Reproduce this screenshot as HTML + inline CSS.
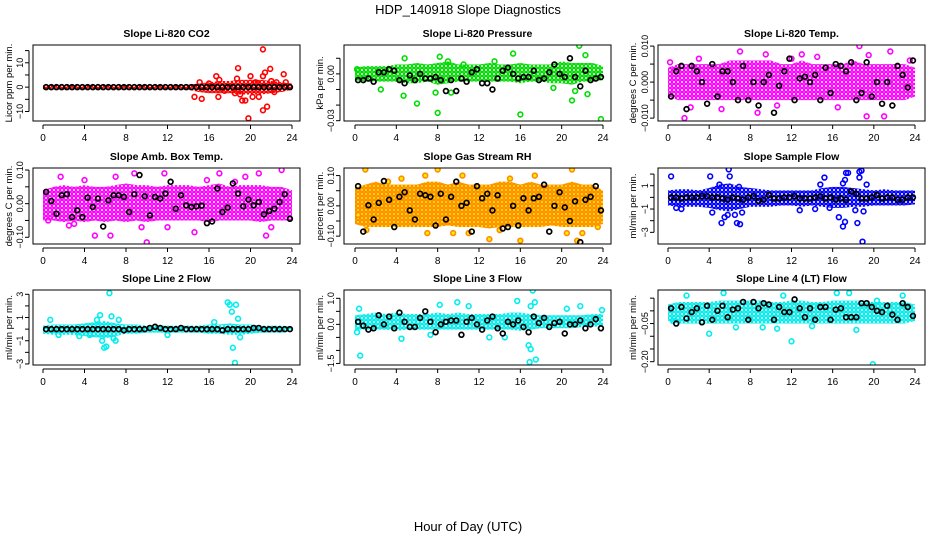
<!DOCTYPE html>
<html><head><meta charset="utf-8"><style>
html,body{margin:0;padding:0;background:#fff}
svg{display:block;font-family:"Liberation Sans",Arial,sans-serif}
</style></head><body>
<svg id="chart" width="936" height="540" viewBox="0 0 936 540" xmlns="http://www.w3.org/2000/svg">
<text x="468" y="14" font-size="13" text-anchor="middle">HDP_140918  Slope Diagnostics</text>
<text x="468" y="531" font-size="13" text-anchor="middle">Hour of Day (UTC)</text>
<g id="panels"></g>
</svg>
<script>
// ---------- data ----------
const bandHours = [0,1,2,3,4,5,6,7,8,9,10,11,12,13,14,15,16,17,18,19,20,21,22,23,24];
const xTicks = [0,4,8,12,16,20,24];

const co2Lo = [-0.8,-0.8,-0.8,-0.8,-0.8,-0.8,-0.8,-0.8,-0.8,-0.8,-0.8,-0.8,-0.8,-0.8,-1,-2,-2.5,-2.5,-2.5,-3,-3,-3,-2.5,-2,-1];
const co2Hi = [0.8,0.8,0.8,0.8,0.8,0.8,0.8,0.8,0.8,0.8,0.8,0.8,0.8,0.8,1,1.5,2,2.5,2.5,3,3,3,2.5,2,1.5];
const co2OutX = [15.3,14.6,16.7,16.9,17,18.8,18.7,19.2,19.5,19.8,20,20.2,20.5,20.8,21.2,21.2,21.4,21.6,21.9,21.2,22,22.5,23.2,23.4,17.5,18.5,19,22.3,16,15.1];
const co2OutY = [-4.8,-4,4.5,-4,3,7.8,3.5,-5.5,-5.5,-12.8,4.5,-4,2,-4,15.5,-9.5,6,-8,7.5,4.5,2.5,2,5.3,2,-1.5,-2.5,-3,-2,1.5,2];
const co2Black = [0,0,0,0,0,0,0,0,0,0,0,0,0,0,0,0,0,0,0,0,0,0,0,0,0,0,0,0,0,0,0,0,0,0,0,0,0,0,0,0,0,0,0,0,0,0,0,0];

const presLo = [-0.004,-0.005,-0.005,-0.005,-0.005,-0.006,-0.006,-0.005,-0.007,-0.006,-0.005,-0.005,-0.005,-0.005,-0.005,-0.005,-0.006,-0.005,-0.005,-0.006,-0.006,-0.007,-0.005,-0.005,-0.004];
const presHi = [0.004,0.005,0.005,0.005,0.006,0.006,0.007,0.006,0.007,0.008,0.006,0.006,0.006,0.007,0.006,0.006,0.007,0.006,0.006,0.006,0.008,0.007,0.007,0.007,0.005];
const presOutX = [0.2,2.5,4.7,4.8,6,7.8,8,8.2,9,9.3,15.3,16,19.2,21,21.3,21.7,22.5,22.3,23.8,13.5,10.5];
const presOutY = [0.003,-0.010,-0.014,0.010,-0.019,-0.012,-0.025,0.011,0.008,-0.012,0.013,-0.026,-0.009,-0.017,-0.011,0.018,-0.013,0.012,-0.029,0.008,0.006];
const presBlack = [-0.004,-0.004,-0.003,-0.005,0.001,0.001,0.003,0.002,-0.004,-0.006,-0.001,-0.004,0.000,-0.003,-0.003,-0.002,-0.004,-0.011,-0.004,-0.011,-0.003,-0.005,0.001,0.003,-0.006,-0.006,-0.010,-0.003,0.002,0.004,0.000,-0.003,-0.002,-0.002,0.002,-0.004,-0.003,0.001,0.006,0.000,-0.002,0.010,-0.002,-0.008,0.002,-0.004,-0.003,-0.002];

const tempLo = [-0.004,-0.005,-0.005,-0.005,-0.005,-0.005,-0.005,-0.005,-0.005,-0.005,-0.005,-0.005,-0.005,-0.005,-0.005,-0.005,-0.005,-0.005,-0.005,-0.005,-0.005,-0.005,-0.005,-0.005,-0.004];
const tempHi = [0.004,0.005,0.005,0.005,0.005,0.005,0.006,0.006,0.006,0.006,0.006,0.005,0.005,0.006,0.005,0.005,0.005,0.005,0.006,0.005,0.005,0.005,0.005,0.005,0.004];
const tempOutX = [1.6,7,8.7,9.5,10.6,18.6,19.3,21,21.6,12,5.2,16.5,13,19.5,0.2,2.2,14.5,3,23.5];
const tempOutY = [-0.010,0.0085,-0.0085,0.0077,-0.0065,0.010,-0.0095,-0.0095,0.0085,0.0065,-0.0075,-0.007,0.0077,0.0075,0.0055,-0.007,0.007,0.0065,0.006];
const tempBlack = [-0.004,0.003,0.0045,-0.0075,0.0045,0.003,0.000,-0.006,0.005,-0.004,0.003,0.003,0.000,-0.005,0.0045,-0.005,0.000,-0.0065,0.000,0.002,-0.0085,-0.001,0.003,0.0065,-0.005,0.001,0.0015,0.000,0.002,-0.005,0.004,-0.003,0.005,0.0045,0.003,0.0055,-0.005,-0.003,0.0055,-0.004,0.000,-0.006,0.000,-0.0065,0.0045,0.002,-0.0015,0.006];

const ambLo = [-0.05,-0.05,-0.055,-0.05,-0.055,-0.05,-0.055,-0.05,-0.055,-0.05,-0.055,-0.05,-0.05,-0.05,-0.05,-0.05,-0.055,-0.05,-0.05,-0.05,-0.05,-0.055,-0.05,-0.05,-0.05];
const ambHi = [0.04,0.05,0.055,0.05,0.055,0.05,0.05,0.055,0.06,0.055,0.055,0.05,0.055,0.055,0.055,0.05,0.055,0.06,0.05,0.055,0.055,0.055,0.05,0.05,0.04];
const ambOutX = [5,6.5,10,21.5,23,22,4,1.7,7,8.8,11.7,14.6,15.8,17,19.5,20.8,3,9.5,12,0.5,2.5,18.5];
const ambOutY = [-0.095,-0.095,-0.115,-0.095,0.1,-0.07,0.07,0.08,0.08,0.09,0.09,-0.085,0.07,0.09,0.08,0.09,-0.06,-0.07,-0.07,-0.05,-0.065,0.065];
const ambBlack = [0.035,0.008,-0.03,0.025,0.028,-0.04,-0.02,-0.04,0.018,-0.01,0.015,-0.068,0.01,0.025,0.025,0.02,-0.025,0.028,0.085,0.022,-0.035,0.02,0.015,0.03,0.065,-0.015,0.025,-0.005,-0.01,-0.008,-0.006,-0.058,-0.053,0.045,-0.025,-0.012,0.06,0.03,-0.008,0.012,-0.005,0.005,-0.032,-0.022,-0.015,0.005,0.028,-0.045];

const rhLo = [-0.06,-0.07,-0.07,-0.07,-0.07,-0.07,-0.07,-0.07,-0.07,-0.065,-0.07,-0.07,-0.07,-0.075,-0.07,-0.07,-0.07,-0.07,-0.07,-0.065,-0.07,-0.07,-0.07,-0.07,-0.06];
const rhHi = [0.06,0.07,0.08,0.07,0.07,0.07,0.07,0.08,0.08,0.07,0.08,0.07,0.07,0.07,0.08,0.08,0.07,0.08,0.07,0.07,0.07,0.08,0.07,0.07,0.05];
const rhOutX = [1,1.1,3.2,6.8,8,7,9.5,11,13,15,16,17.4,21,20.5,21.5,22,14,10.4,4.5,0.3,23.5];
const rhOutY = [0.12,-0.08,0.08,0.1,0.12,-0.09,-0.09,-0.09,-0.11,0.09,-0.115,0.1,0.12,-0.09,-0.115,-0.09,-0.08,0.1,0.09,-0.03,-0.07];
const rhBlack = [0.065,-0.085,0.002,-0.045,0.01,0.082,0.02,-0.07,0.03,0.045,-0.015,-0.045,0.04,0.035,0.03,-0.065,0.04,-0.045,0.03,0.08,0.0,0.01,-0.085,0.065,0.025,0.04,-0.015,0.035,-0.075,-0.07,0.0,-0.065,0.025,-0.015,0.025,0.03,0.07,-0.085,0.0,0.045,-0.005,-0.05,0.015,-0.12,0.02,0.03,0.065,-0.015];

const sflowLo = [-0.7,-0.8,-0.8,-0.8,-0.9,-1.1,-1.2,-1.0,-0.8,-0.8,-0.8,-0.7,-0.7,-0.8,-0.7,-0.8,-0.9,-0.9,-0.8,-0.8,-0.7,-0.7,-0.7,-0.7,-0.6];
const sflowHi = [0.6,0.7,0.7,0.6,0.8,1.1,1.2,0.9,0.8,0.7,0.6,0.6,0.6,0.6,0.6,0.8,0.9,0.9,0.8,0.7,0.6,0.7,0.6,0.6,0.6];
const sflowOutX = [0.3,0.8,1.3,4.1,4.3,5.2,5.5,5.8,5.9,6,6.5,6.7,7,7.2,6.9,5,12.8,14.3,14.8,15.2,16.6,17,17.2,17.3,17.5,17.2,17,18.2,18.4,18.6,18.8,18.6,18.9,19,19.3,15.7];
const sflowOutY = [1.8,-0.9,-1,1.8,-1.3,-2.2,-1.7,-1.5,2.4,1.8,-1.5,-2.2,-2.3,-1.3,0.9,1.1,-1.1,-1,1.1,1.7,-1.7,-2.5,-2.1,2.1,2.1,1.5,1.2,-1.1,-2.2,2.2,2.3,1.7,-3.8,-1.2,1.1,-0.9];
const sflowBlack = [0.0,0.0,-0.1,0.0,0.0,0.0,0.1,0.1,0.0,0.0,-0.1,-0.2,0.0,-0.1,-0.2,0.0,0.1,-0.3,-0.2,0.2,-0.1,-0.1,0.0,0.0,0.1,-0.1,-0.1,-0.1,0.0,0.1,-0.1,0.0,-0.2,-0.1,-0.2,0.5,0.3,-0.1,-0.1,0.0,0.2,-0.1,0.0,0.0,-0.2,-0.2,0.0,0.0];

const l2Lo = [-0.4,-0.5,-0.5,-0.5,-0.6,-0.7,-0.8,-0.6,-0.4,-0.4,-0.3,-0.3,-0.3,-0.3,-0.3,-0.3,-0.4,-0.4,-0.5,-0.5,-0.4,-0.3,-0.3,-0.3,-0.2];
const l2Hi = [0.3,0.4,0.4,0.4,0.5,0.6,0.7,0.5,0.4,0.4,0.3,0.3,0.3,0.3,0.3,0.3,0.4,0.4,0.5,0.4,0.4,0.3,0.3,0.3,0.2];
const l2OutX = [0.7,5.2,5.5,5.7,5.9,6.1,6.4,6.6,6.8,7,7.3,17.8,18,18.2,18.3,18.5,18.6,18.8,19,4.5,1.5,16.5,12,3.5];
const l2OutY = [0.8,0.8,1.2,-1,-1.6,-1.5,3.1,1.1,-0.8,-1,0.8,2.3,2.1,1.5,-1.6,-2.9,2.1,0.9,-0.7,-0.5,-0.5,0.6,-0.5,-0.6];
const l2Black = [0.0,0.0,0.0,0.0,0.0,0.0,0.0,0.0,0.0,0.0,0.0,0.0,0.0,0.0,0.0,-0.1,0.0,0.0,0.0,0.0,0.1,0.2,0.1,0.0,0.0,0.0,0.1,0.0,0.0,0.0,0.0,0.0,0.0,0.0,-0.1,0.0,0.0,0.0,0.0,0.0,0.1,0.1,0.0,0.0,0.0,0.0,0.0,0.0];

const l3Lo = [-0.2,-0.2,-0.2,-0.2,-0.25,-0.2,-0.2,-0.2,-0.2,-0.2,-0.2,-0.2,-0.2,-0.2,-0.2,-0.2,-0.25,-0.2,-0.15,-0.15,-0.15,-0.15,-0.1,-0.1,-0.05];
const l3Hi = [0.35,0.4,0.45,0.4,0.45,0.4,0.4,0.4,0.45,0.4,0.45,0.4,0.4,0.4,0.4,0.45,0.45,0.4,0.35,0.35,0.35,0.35,0.35,0.4,0.4];
const l3OutX = [0.4,0.5,0.2,4.5,7.3,8.2,9.9,11,15.7,16.8,17,16.9,17.1,17.2,17.4,17.5,17,20.5,21.8,23.9,13,14.5];
const l3OutY = [0.6,-1.2,-0.3,-0.55,-0.4,0.75,0.85,0.7,0.9,-0.8,-0.95,-1.45,-1.7,1.3,0.85,-1.35,0.7,0.6,0.7,0.55,-0.5,-0.5];
const l3Black = [0.1,-0.05,-0.2,-0.15,0.35,0.0,0.3,-0.15,0.45,0.1,-0.1,-0.1,0.25,0.5,0.1,-0.3,0.0,0.1,0.15,0.15,-0.4,0.1,0.25,0.0,-0.2,0.15,0.3,-0.15,-0.35,0.1,0.0,0.15,-0.1,-0.3,0.3,0.05,0.25,-0.1,0.05,0.1,-0.35,0.0,0.0,0.15,-0.15,0.0,0.2,-0.15];

const l4Lo = [-0.04,-0.05,-0.05,-0.05,-0.05,-0.05,-0.05,-0.05,-0.05,-0.05,-0.05,-0.05,-0.05,-0.05,-0.05,-0.05,-0.05,-0.05,-0.05,-0.05,-0.05,-0.05,-0.05,-0.05,-0.04];
const l4Hi = [0.025,0.035,0.035,0.035,0.035,0.04,0.04,0.04,0.04,0.04,0.035,0.035,0.04,0.04,0.035,0.035,0.04,0.04,0.04,0.04,0.035,0.035,0.035,0.035,0.025];
const l4OutX = [4,5.4,6.6,9.2,10.6,12,16.4,17.6,18.3,19.9,22.8,0.5,1.8,11.2,14,20.3];
const l4OutY = [-0.09,0.07,-0.065,-0.065,-0.07,-0.12,0.07,0.07,-0.075,-0.21,0.06,-0.04,0.06,0.06,-0.06,0.04];
const l4Black = [0.01,-0.05,0.015,-0.03,-0.005,0.01,-0.045,0.02,-0.035,0.0,0.02,-0.025,0.005,0.01,0.035,-0.035,0.035,0.01,0.03,0.025,-0.035,0.015,-0.005,-0.005,0.045,0.01,-0.025,0.01,-0.035,0.015,0.015,-0.035,0.005,0.01,-0.025,-0.025,-0.025,0.03,0.03,0.015,0.0,-0.005,0.02,-0.015,-0.035,0.03,0.015,-0.02];

const yTicksCo2 = [-10,-5,0,5,10,15], yLabCo2 = ["-10","","0","","10",""];
const yTicksPres = [-0.03,-0.02,-0.01,0,0.01], yLabPres = ["-0.03","","","0.00",""];
const yTicksTemp = [-0.01,-0.005,0,0.005,0.01], yLabTemp = ["-0.010","","0.000","","0.010"];
const yTicksAmb = [-0.1,-0.05,0,0.05,0.1], yLabAmb = ["-0.10","","0.00","","0.10"];
const yTicksRh = [-0.1,-0.05,0,0.05,0.1], yLabRh = ["-0.10","","0.00","","0.10"];
const yTicksSf = [-3,-2,-1,0,1,2], yLabSf = ["-3","","-1","","1",""];
const yTicksL2 = [-3,-2,-1,0,1,2,3], yLabL2 = ["-3","","-1","","1","","3"];
const yTicksL3 = [-1.5,-1,-0.5,0,0.5,1], yLabL3 = ["-1.5","","","0.0","","1.0"];
const yTicksL4 = [-0.2,-0.15,-0.1,-0.05,0,0.05], yLabL4 = ["-0.20","","","-0.05","",""];

// ---------- layout ----------
const cols = [{L:33,R:300,x0:43,x24:292,ya:9},{L:344,R:611,x0:355,x24:603,ya:320},{L:658,R:925,x0:668,x24:915,ya:633}];
const rows = [{T:45,B:121},{T:168,B:244},{T:290,B:365}];
const panels = [
 {key:'co2',title:'Slope Li-820 CO2',ylab:'Licor ppm per min.',c:0,r:0,ymin:-13.9,ymax:17.3,col:'#ff0000',lo:co2Lo,hi:co2Hi,ox:co2OutX,oy:co2OutY,bk:co2Black,yt:yTicksCo2,yl:yLabCo2},
 {key:'pressure',title:'Slope Li-820 Pressure',ylab:'kPa per min.',c:1,r:0,ymin:-0.0302,ymax:0.0185,col:'#00dd00',lo:presLo,hi:presHi,ox:presOutX,oy:presOutY,bk:presBlack,yt:yTicksPres,yl:yLabPres},
 {key:'temp',title:'Slope Li-820 Temp.',ylab:'degrees C per min.',c:2,r:0,ymin:-0.0108,ymax:0.0103,col:'#ff00ff',lo:tempLo,hi:tempHi,ox:tempOutX,oy:tempOutY,bk:tempBlack,yt:yTicksTemp,yl:yLabTemp},
 {key:'amb-box',title:'Slope Amb. Box Temp.',ylab:'degrees C per min.',c:0,r:1,ymin:-0.12,ymax:0.106,col:'#ff00ff',lo:ambLo,hi:ambHi,ox:ambOutX,oy:ambOutY,bk:ambBlack,yt:yTicksAmb,yl:yLabAmb},
 {key:'gas-rh',title:'Slope Gas Stream RH',ylab:'percent per min.',c:1,r:1,ymin:-0.126,ymax:0.125,col:'#ff8c00',lo:rhLo,hi:rhHi,ox:rhOutX,oy:rhOutY,bk:rhBlack,yt:yTicksRh,yl:yLabRh},
 {key:'sample-flow',title:'Slope Sample Flow',ylab:'ml/min per min.',c:2,r:1,ymin:-4.0,ymax:2.52,col:'#0000ff',lo:sflowLo,hi:sflowHi,ox:sflowOutX,oy:sflowOutY,bk:sflowBlack,yt:yTicksSf,yl:yLabSf},
 {key:'line2',title:'Slope Line 2 Flow',ylab:'ml/min per min.',c:0,r:2,ymin:-3.09,ymax:3.37,col:'#00eeee',lo:l2Lo,hi:l2Hi,ox:l2OutX,oy:l2OutY,bk:l2Black,yt:yTicksL2,yl:yLabL2},
 {key:'line3',title:'Slope Line 3 Flow',ylab:'ml/min per min.',c:1,r:2,ymin:-1.56,ymax:1.32,col:'#00eeee',lo:l3Lo,hi:l3Hi,ox:l3OutX,oy:l3OutY,bk:l3Black,yt:yTicksL3,yl:yLabL3},
 {key:'line4',title:'Slope Line 4 (LT) Flow',ylab:'ml/min per min.',c:2,r:2,ymin:-0.213,ymax:0.082,col:'#00eeee',lo:l4Lo,hi:l4Hi,ox:l4OutX,oy:l4OutY,bk:l4Black,yt:yTicksL4,yl:yLabL4}
];

const NS='http://www.w3.org/2000/svg';
const root=document.getElementById('panels');
function mk(tag,attrs,parent){const e=document.createElementNS(NS,tag);for(const k in attrs)e.setAttribute(k,attrs[k]);parent.appendChild(e);return e;}

panels.forEach(p=>{
  const C=cols[p.c],R=rows[p.r];
  const sx=h=>C.x0+(C.x24-C.x0)*h/24;
  const sy=v=>R.B-(v-p.ymin)/(p.ymax-p.ymin)*(R.B-R.T);
  const g=mk('g',{},root);
  
  
  const t=mk('text',{x:(C.L+C.R)/2,y:R.T-8,'font-size':'10.5','font-weight':'bold','text-anchor':'middle'},g);
  t.textContent=p.title;
  
  
  const yt=mk('text',{x:0,y:0,'font-size':'9.5','text-anchor':'middle',transform:`translate(${C.ya+3},${(R.T+R.B)/2}) rotate(-90)`},g);
  yt.textContent=p.ylab;
  
  
  const pid='pat-'+p.key;
  const pat=mk('pattern',{id:pid,patternUnits:'userSpaceOnUse',width:4,height:4},g);
  const inner = p.key==='gas-rh' ? '#ffee00' : '#ffffff';
  mk('rect',{x:0,y:0,width:4,height:4,fill:inner},pat);
  mk('circle',{cx:2,cy:2,r:1.7,fill:'none',stroke:p.col,'stroke-width':'1.4'},pat);
  const cid='clip-'+p.key;
  const cp=mk('clipPath',{id:cid},g);
  mk('rect',{x:C.L,y:R.T,width:C.R-C.L,height:R.B-R.T},cp);
  const plot=mk('g',{'clip-path':`url(#${cid})`},g);
  
  
  let pts=[];
  bandHours.forEach((h,i)=>pts.push(sx(h)+','+sy(p.hi[i])));
  for(let i=bandHours.length-1;i>=0;i--)pts.push(sx(bandHours[i])+','+sy(p.lo[i]));
  const band=mk('polygon',{points:pts.join(' '),fill:`url(#${pid})`,stroke:'none'},plot);
  
  
  p.ox.forEach((h,i)=>{
    const c=mk('circle',{cx:sx(h),cy:sy(p.oy[i]),r:2.4,fill:p.key==='gas-rh'?'#ffee00':'none',stroke:p.col,'stroke-width':'1.6'},plot);
    
    
  });
  p.bk.forEach((v,i)=>{
    const h=0.5*(i+1)-0.2;
    const c=mk('circle',{cx:sx(h),cy:sy(v),r:2.4,fill:'none',stroke:'#000','stroke-width':'1.7'},plot);
    
    
  });
  const box=mk('rect',{x:C.L,y:R.T,width:C.R-C.L,height:R.B-R.T,fill:'none',stroke:'#000','stroke-width':'1'},g);
  
  
  const xa=mk('g',{},g);
  
  
  mk('line',{x1:sx(0),x2:sx(24),y1:R.B+4,y2:R.B+4,stroke:'#000'},xa);
  xTicks.forEach(h=>{
    mk('line',{x1:sx(h),x2:sx(h),y1:R.B+4,y2:R.B+8,stroke:'#000'},xa);
    const tl=mk('text',{x:sx(h),y:R.B+20,'font-size':'10','text-anchor':'middle'},xa);
    tl.textContent=String(h);
    
    
  });
  const ya=mk('g',{},g);
  
  
  const ax=C.L-4;
  mk('line',{x1:ax,x2:ax,y1:sy(p.yt[0]),y2:sy(p.yt[p.yt.length-1]),stroke:'#000'},ya);
  p.yt.forEach((v,i)=>{
    mk('line',{x1:ax-4,x2:ax,y1:sy(v),y2:sy(v),stroke:'#000'},ya);
    if(p.yl[i]){
      const tl=mk('text',{x:0,y:0,'font-size':'9','text-anchor':'middle',transform:`translate(${ax-6},${sy(v)}) rotate(-90)`},ya);
      tl.textContent=p.yl[i].replace('-','\u2212');
      
      
    }
  });
});
</script>
</body></html>
